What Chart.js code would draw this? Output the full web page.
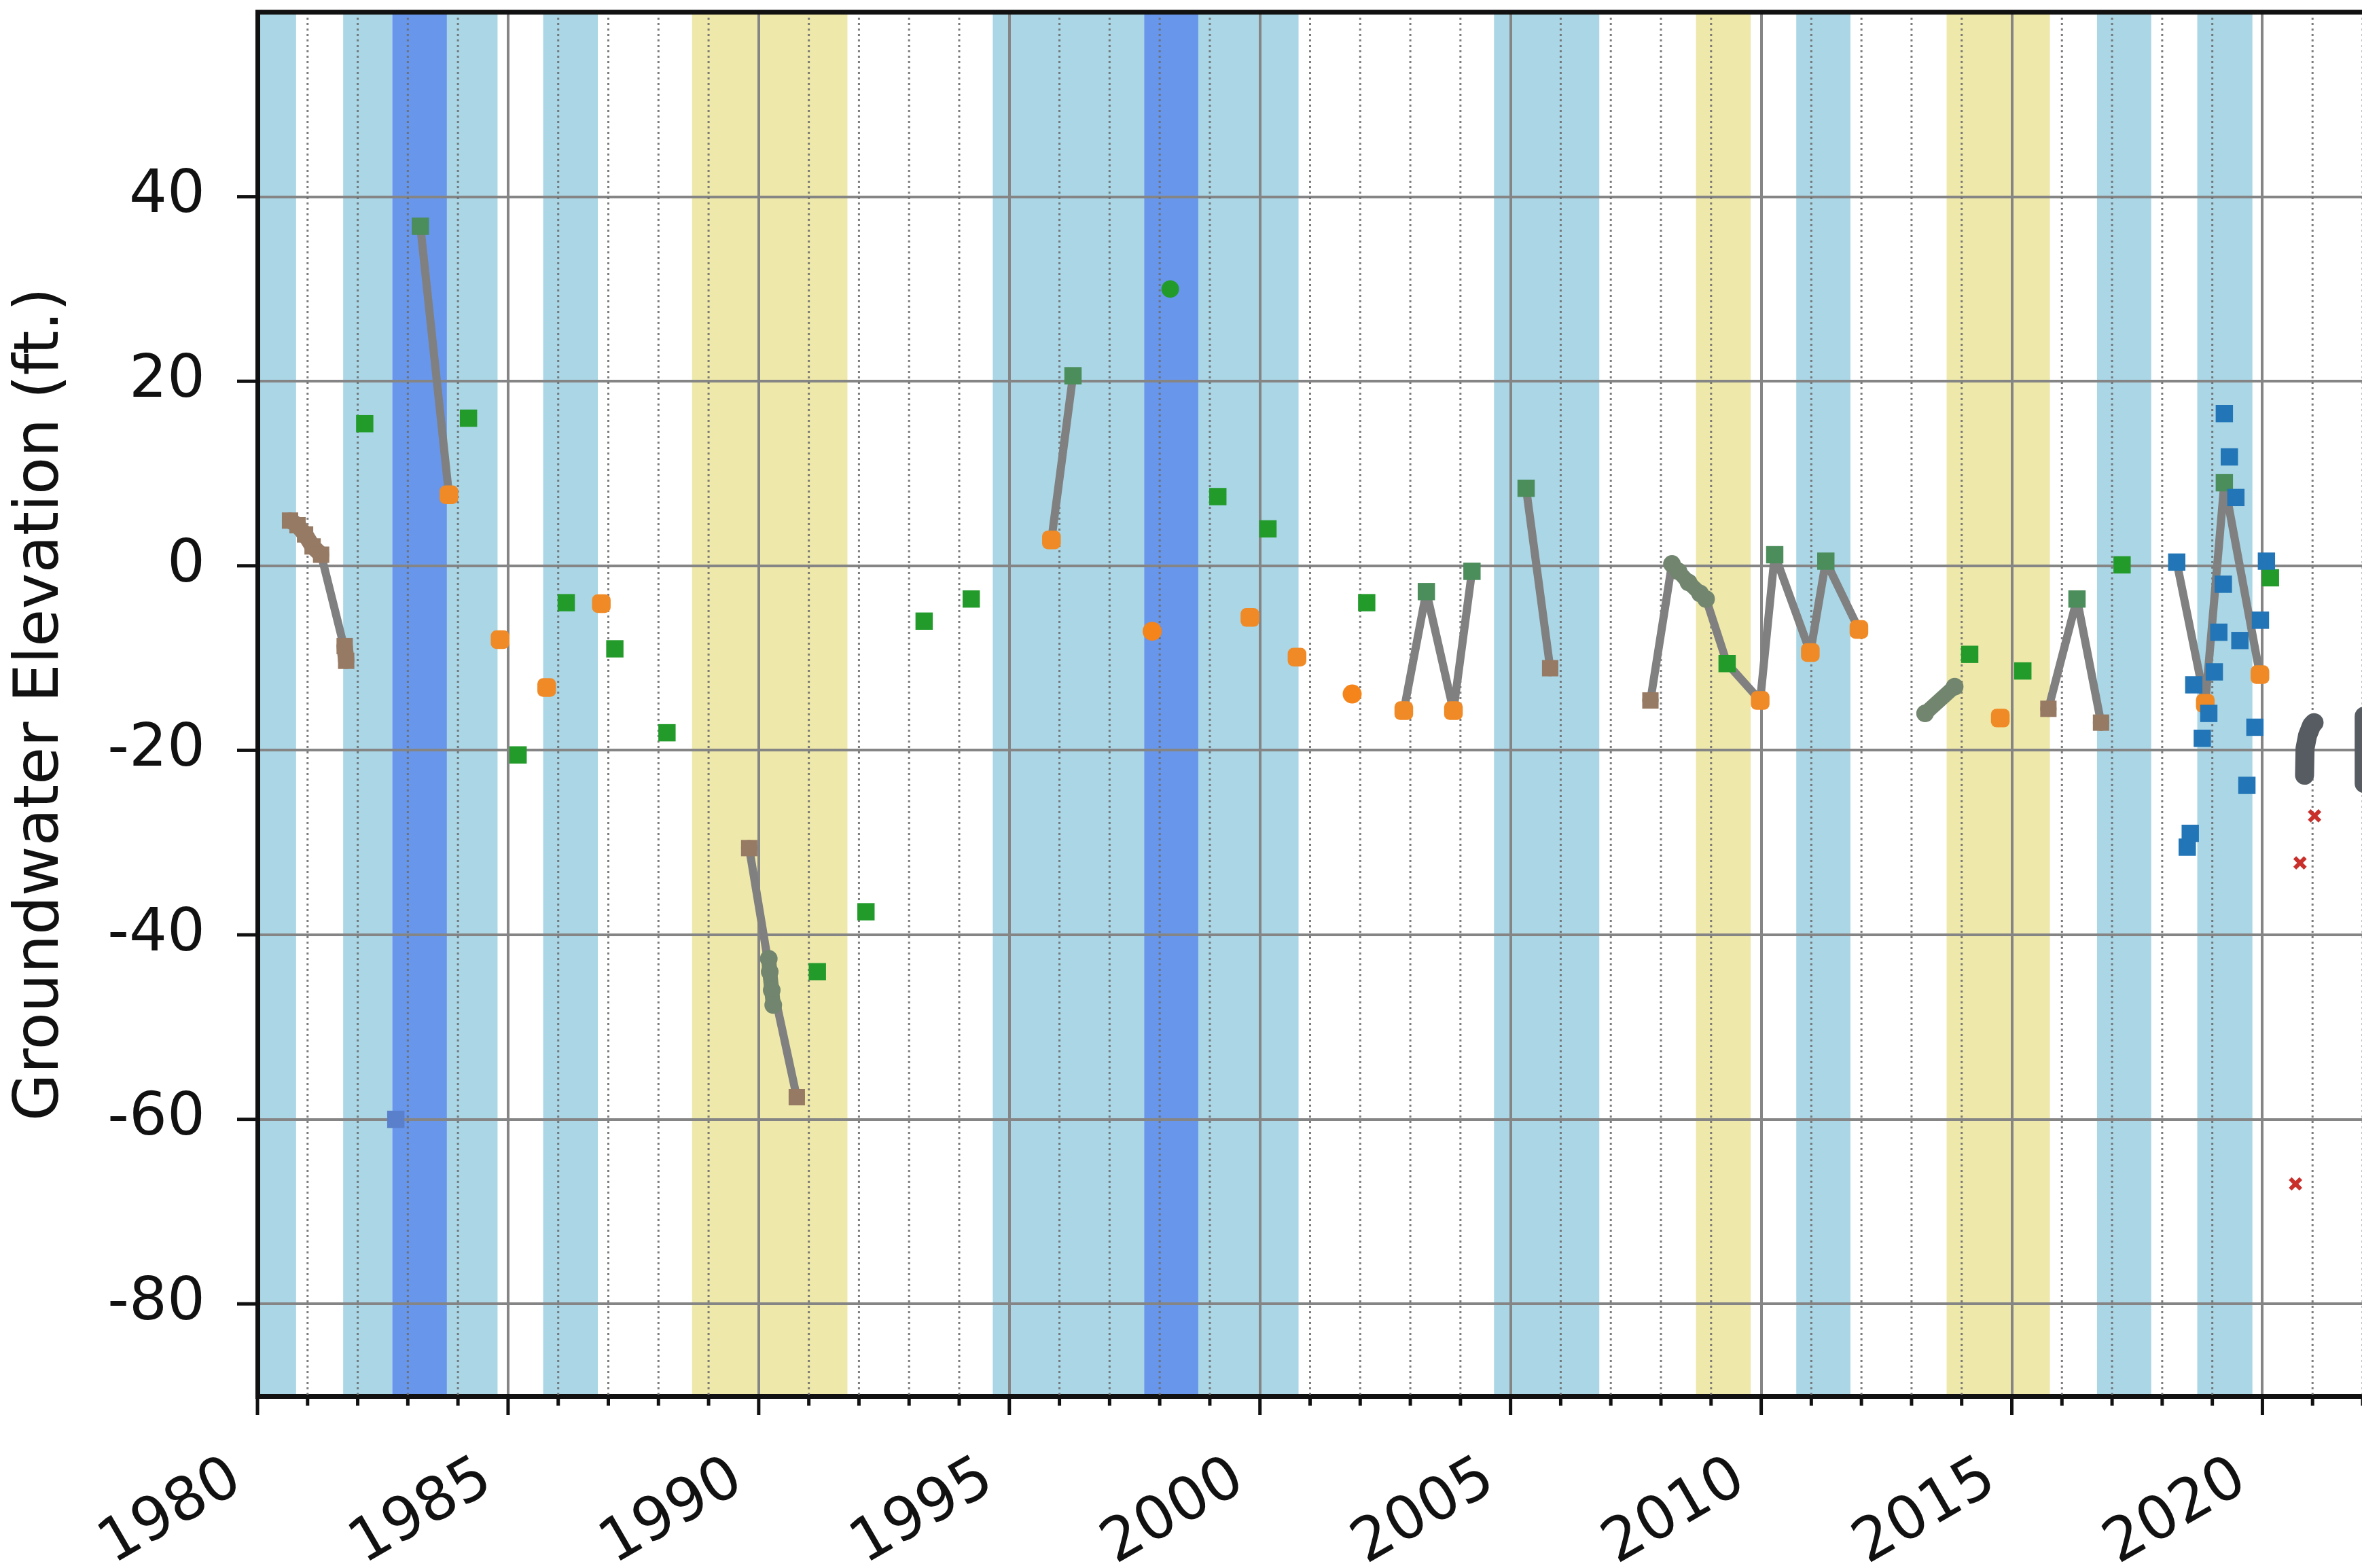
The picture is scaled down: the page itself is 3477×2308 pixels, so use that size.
<!DOCTYPE html>
<html><head><meta charset="utf-8">
<script src="https://cdn.jsdelivr.net/npm/chart.js@4.4.1/dist/chart.umd.min.js"></script>
<style>
html,body{margin:0;padding:0;background:#fff;overflow:hidden;width:3477px;height:2308px;}
#wrap{position:relative;width:3477px;height:2308px;overflow:hidden;background:#fff;}
canvas{display:block;}
</style></head><body>
<div id="wrap"><canvas id="c" width="3496" height="2308"></canvas></div>
<script>
// ---- axis ranges / ticks ----
const xMin = 1980, xMax = 2022, yMin = -90, yMax = 60;
const yTickValues = [-80, -60, -40, -20, 0, 20, 40];
const xLabelStep = 5;

// ---- water-year background bands ----
const bandStart = [1980.0, 1981.71, 1982.69, 1983.78, 1985.70, 1988.67, 1994.67, 1997.69, 1998.77, 2004.67, 2008.70, 2010.70, 2013.70, 2016.70, 2018.70];
const bandEnd   = [1980.77, 1982.69, 1983.78, 1984.79, 1986.79, 1991.77, 1997.69, 1998.77, 2000.77, 2006.77, 2009.79, 2011.78, 2015.76, 2017.78, 2019.80];
const bandKind  = ['wet','wet','veryWet','wet','wet','dry','wet','veryWet','wet','wet','dry','wet','dry','wet','wet'];

// ---- series ----
const greenYears  = [1982.14, 1984.21, 1985.20, 1986.16, 1987.13, 1988.17, 1991.17, 1992.14, 1993.30, 1994.24, 1999.16, 2000.16, 2002.13, 2009.32, 2014.16, 2015.22, 2017.20, 2020.16];
const greenValues = [15.4, 16.0, -20.5, -4.0, -9.0, -18.1, -44.0, -37.5, -6.0, -3.6, 7.5, 4.0, -4.0, -10.6, -9.6, -11.4, 0.1, -1.3];

const greenLinkYears  = [1983.25, 1996.27, 2003.32, 2004.23, 2005.31, 2010.27, 2011.29, 2016.30, 2019.24];
const greenLinkValues = [36.8, 20.6, -2.8, -0.6, 8.4, 1.2, 0.5, -3.6, 9.0];

const greenDotYears  = [1998.21];
const greenDotValues = [30.0];

const orangeYears  = [1983.82, 1984.84, 1985.77, 1986.86, 1995.84, 1999.80, 2000.74, 2002.87, 2003.86, 2009.98, 2010.98, 2011.95, 2014.77, 2018.86, 2019.95];
const orangeValues = [7.7, -8.0, -13.2, -4.1, 2.8, -5.6, -9.9, -15.7, -15.7, -14.6, -9.4, -6.9, -16.5, -14.9, -11.8];

const orangeDotYears  = [1997.85, 2001.84];
const orangeDotValues = [-7.1, -13.9];

const brownYears  = [1980.65, 1980.80, 1980.95, 1981.10, 1981.27, null, 1981.74, 1981.77, null, 1989.81, null, 1990.76, null, 2005.79, null, 2007.79, null, 2015.73, null, 2016.78];
const brownValues = [4.9, 4.4, 3.4, 2.1, 1.2, null, -8.7, -10.3, null, -30.6, null, -57.6, null, -11.1, null, -14.6, null, -15.5, null, -17.0];

const sageYears  = [1990.20, 1990.22, 1990.26, 1990.29, null, 2008.22, 2008.35, 2008.55, 2008.78, 2008.90, null, 2013.27, 2013.86];
const sageValues = [-42.6, -44.0, -46.0, -47.6, null, 0.2, -0.6, -1.8, -3.0, -3.6, null, -16.0, -13.1];

const slateYears  = [1982.76];
const slateValues = [-60.0];

const blueYears  = [2018.29, 2018.50, 2018.56, 2018.63, 2018.80, 2018.93, 2019.04, 2019.13, 2019.22, 2019.24, 2019.34, 2019.47, 2019.55, 2019.69, 2019.85, 2019.96, 2020.08];
const blueValues = [0.4, -30.5, -29.0, -12.9, -18.7, -16.0, -11.5, -7.2, -2.0, 16.5, 11.8, 7.4, -8.1, -23.8, -17.5, -5.9, 0.5];

const redYears  = [2020.66, 2020.75, 2021.04];
const redValues = [-67.0, -32.2, -27.1];

const darkYears  = [2020.84, 2020.85, 2020.90, 2020.98, 2021.03, null, 2022.03, 2022.03];
const darkValues = [-22.7, -19.8, -18.4, -17.3, -17.0, null, -16.3, -23.6];

const linkYears  = [1980.70, 1981.27, 1981.76, null, 1983.25, 1983.82, null, 1989.81, 1990.22, 1990.76, null, 1995.84, 1996.27, null, 2002.87, 2003.32, 2003.86, 2004.23, null, 2005.31, 2005.79, null, 2007.79, 2008.22, 2008.90, 2009.32, 2009.98, 2010.27, 2010.98, 2011.29, 2011.95, null, 2013.27, 2013.86, null, 2015.73, 2016.30, 2016.78, null, 2018.29, 2018.86, 2019.24, 2019.95];
const linkValues = [4.9, 1.2, -9.5, null, 36.8, 7.7, null, -30.6, -44.0, -57.6, null, 2.8, 20.6, null, -15.7, -2.8, -15.7, -0.6, null, 8.4, -11.1, null, -14.6, 0.2, -3.6, -10.6, -14.6, 1.2, -9.4, 0.5, -6.9, null, -16.0, -13.1, null, -15.5, -3.6, -17.0, null, 0.4, -14.9, 9.0, -11.8];

// ---- styles ----
const bandColors = { wet: '#aad6e6', veryWet: '#6896eb', dry: '#eee8aa' };
const FONT = "'DejaVu Sans', sans-serif";

function pts(xs, ys) { return xs.map((x, i) => ({ x: x, y: ys[i] })); }

const years = [];
for (let y = xMin; y <= xMax; y++) years.push(y);

const decor = {
  id: 'decor',
  beforeDraw(chart) {
    const { ctx, chartArea: a, scales: { x } } = chart;
    ctx.save();
    for (let i = 0; i < bandStart.length; i++) {
      const x0 = Math.max(a.left, x.getPixelForValue(bandStart[i]));
      const x1 = Math.min(a.right, x.getPixelForValue(bandEnd[i]));
      ctx.fillStyle = bandColors[bandKind[i]];
      ctx.fillRect(x0, a.top, x1 - x0, a.bottom - a.top);
    }
    ctx.restore();
  },
  beforeDatasetsDraw(chart) {
    const { ctx, chartArea: a, scales: { x } } = chart;
    ctx.save();
    ctx.strokeStyle = 'rgba(110,110,110,0.9)';
    ctx.lineWidth = 3;
    ctx.setLineDash([3, 5]);
    years.forEach(v => {
      if (v % xLabelStep === 0) return;
      const px = x.getPixelForValue(v);
      ctx.beginPath(); ctx.moveTo(px, a.top); ctx.lineTo(px, a.bottom); ctx.stroke();
    });
    ctx.restore();
  },
  afterDraw(chart) {
    const { ctx, chartArea: a, scales: { x, y } } = chart;
    ctx.save();
    ctx.strokeStyle = '#111';
    ctx.lineWidth = 5;
    years.forEach(v => {
      const px = x.getPixelForValue(v);
      const len = v % xLabelStep === 0 ? 28 : 14;
      ctx.beginPath(); ctx.moveTo(px, a.bottom); ctx.lineTo(px, a.bottom + len); ctx.stroke();
    });
    yTickValues.forEach(v => {
      const py = y.getPixelForValue(v);
      ctx.beginPath(); ctx.moveTo(a.left - 30, py); ctx.lineTo(a.left, py); ctx.stroke();
    });
    ctx.lineWidth = 7;
    ctx.beginPath(); ctx.moveTo(a.left - 3, a.top); ctx.lineTo(a.right, a.top); ctx.stroke();
    ctx.restore();
  }
};

const markerBase = { showLine: false, pointBorderWidth: 0 };

new Chart(document.getElementById('c'), {
  type: 'scatter',
  data: {
    datasets: [
      Object.assign({}, markerBase, { label: 'red', data: pts(redYears, redValues), pointStyle: 'crossRot', pointRadius: 11, pointBorderWidth: 6, pointBorderColor: '#c9302c', pointBackgroundColor: '#c9302c', order: 1 }),
      Object.assign({}, markerBase, { label: 'blue', data: pts(blueYears, blueValues), pointStyle: 'rect', pointRadius: 18, pointBackgroundColor: '#2275b6', order: 2 }),
      Object.assign({}, markerBase, { label: 'slate', data: pts(slateYears, slateValues), pointStyle: 'rect', pointRadius: 18, pointBackgroundColor: '#5a80cc', order: 2 }),
      Object.assign({}, markerBase, { label: 'green', data: pts(greenYears, greenValues), pointStyle: 'rect', pointRadius: 18, pointBackgroundColor: '#239b2b', order: 3 }),
      Object.assign({}, markerBase, { label: 'greenLinked', data: pts(greenLinkYears, greenLinkValues), pointStyle: 'rect', pointRadius: 18, pointBackgroundColor: '#4b8d5b', order: 3 }),
      Object.assign({}, markerBase, { label: 'greenDot', data: pts(greenDotYears, greenDotValues), pointStyle: 'circle', pointRadius: 13, pointBackgroundColor: '#239b2b', order: 3 }),
      Object.assign({}, markerBase, { label: 'orange', data: pts(orangeYears, orangeValues), pointStyle: 'rectRounded', pointRadius: 16, pointBackgroundColor: '#f08a26', order: 3 }),
      Object.assign({}, markerBase, { label: 'orangeDot', data: pts(orangeDotYears, orangeDotValues), pointStyle: 'circle', pointRadius: 14, pointBackgroundColor: '#f5841a', order: 3 }),
      { label: 'brown', data: pts(brownYears, brownValues), showLine: true, spanGaps: false, borderColor: '#977a64', borderWidth: 24, borderCapStyle: 'round', borderJoinStyle: 'round', pointStyle: 'rect', pointRadius: 17, pointBorderWidth: 0, pointBackgroundColor: '#977a64', order: 5 },
      { label: 'sage', data: pts(sageYears, sageValues), showLine: true, spanGaps: false, borderColor: '#72856f', borderWidth: 22, borderCapStyle: 'round', borderJoinStyle: 'round', pointStyle: 'circle', pointRadius: 13, pointBorderWidth: 0, pointBackgroundColor: '#72856f', order: 5 },
      { label: 'dark', data: pts(darkYears, darkValues), showLine: true, spanGaps: false, borderColor: '#565c61', borderWidth: 28, borderCapStyle: 'round', borderJoinStyle: 'round', pointRadius: 0, order: 5 },
      { label: 'link', data: pts(linkYears, linkValues), showLine: true, spanGaps: false, borderColor: '#808080', borderWidth: 12, borderCapStyle: 'round', borderJoinStyle: 'round', pointRadius: 0, order: 10 }
    ]
  },
  options: {
    responsive: false,
    devicePixelRatio: 1,
    animation: false,
    events: [],
    layout: { padding: { top: 15, left: 0, right: 0, bottom: 0 } },
    plugins: { legend: { display: false }, tooltip: { enabled: false } },
    scales: {
      x: {
        type: 'linear', min: xMin, max: xMax,
        afterBuildTicks: s => { s.ticks = years.map(v => ({ value: v })); },
        afterFit: s => { s.height = 253; s.paddingLeft = 0; s.paddingRight = 0; },
        grid: { drawTicks: false, lineWidth: 4, color: c => (c.tick && c.tick.value % xLabelStep === 0) ? '#858585' : 'rgba(0,0,0,0)' },
        border: { display: true, color: '#111', width: 7 },
        ticks: {
          autoSkip: false, minRotation: 30, maxRotation: 30, padding: 70, labelOffset: -30,
          color: '#111', font: { family: FONT, size: 88 },
          callback: v => (v % xLabelStep === 0 ? String(v) : '')
        }
      },
      y: {
        type: 'linear', min: yMin, max: yMax,
        afterBuildTicks: s => { s.ticks = yTickValues.map(v => ({ value: v })); },
        afterFit: s => { s.width = 379; s.paddingTop = 0; s.paddingBottom = 0; },
        grid: { drawTicks: false, lineWidth: 4, color: '#858585' },
        border: { display: true, color: '#111', width: 7 },
        ticks: { padding: 77, color: '#111', font: { family: FONT, size: 88 }, callback: v => String(v) },
        title: { display: true, text: 'Groundwater Elevation (ft.)', color: '#111', font: { family: FONT, size: 90 }, padding: { top: 8, bottom: 0 } }
      }
    }
  },
  plugins: [decor]
});
</script>
</body></html>
